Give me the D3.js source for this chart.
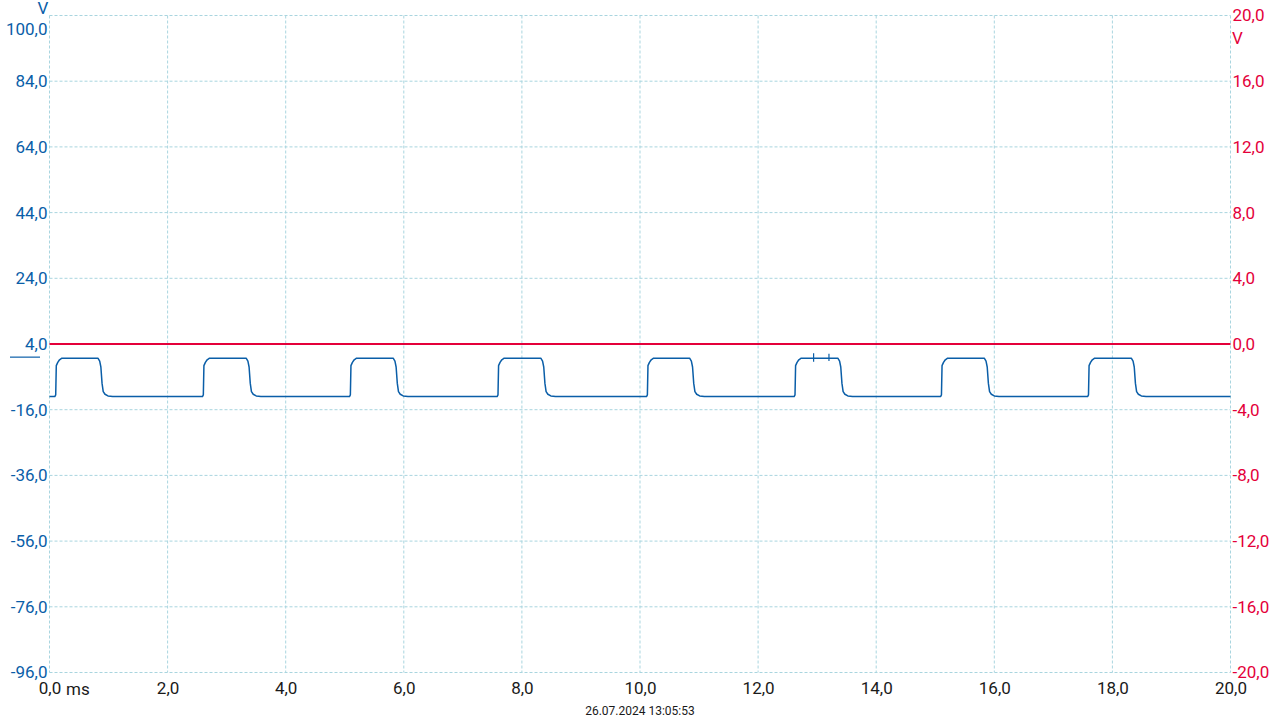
<!DOCTYPE html>
<html>
<head>
<meta charset="utf-8">
<script src="https://cdn.jsdelivr.net/npm/d3@7"></script>
<style>
  html, body { margin: 0; padding: 0; background: #fff; }
  svg { display: block; font-family: Roboto, "Noto Sans", sans-serif; }
</style>
</head>
<body>
<svg id="chart" width="1280" height="720"></svg>
<script>
// ---------- data ----------
const timeTicks = [0, 2, 4, 6, 8, 10, 12, 14, 16, 18, 20];
const timeLabels = ["0,0", "2,0", "4,0", "6,0", "8,0", "10,0", "12,0", "14,0", "16,0", "18,0", "20,0"];
const leftTicks = [104, 84, 64, 44, 24, 4, -16, -36, -56, -76, -96];
const leftLabels = ["100,0", "84,0", "64,0", "44,0", "24,0", "4,0", "-16,0", "-36,0", "-56,0", "-76,0", "-96,0"];
const rightTicks = [20, 16, 12, 8, 4, 0, -4, -8, -12, -16, -20];
const rightLabels = ["20,0", "16,0", "12,0", "8,0", "4,0", "0,0", "-4,0", "-8,0", "-12,0", "-16,0", "-20,0"];

// blue channel (left axis, V): pulse edges in ms
const riseTimes = [0.11, 2.61, 5.10, 7.60, 10.13, 12.63, 15.11, 17.60];
const fallTimes = [0.87, 3.38, 5.87, 8.37, 10.89, 13.40, 15.88, 18.37];
const blueHigh = -0.2;
const blueLow = -12.0;
// edge shapes: [time offset ms, value V]
const riseShape = [[-0.02, -12.0], [-0.005, -11.5], [0.005, -2.6], [0.03, -1.6], [0.06, -0.8], [0.10, -0.3]];
const fallShape = [[-0.05, -0.3], [-0.02, -1.2], [0.0, -3.0], [0.02, -8.0], [0.04, -10.5], [0.07, -11.3], [0.12, -11.8], [0.20, -12.0]];
// short spikes on the 6th pulse: [time ms, top V, bottom V]
const blueSpikes = [[12.94, 1.2, -1.4], [13.20, 1.0, -1.2]];
const blueZero = 0;

// red channel (right axis, V)
const redLevel = 0.0;
const timestamp = "26.07.2024 13:05:53";

// ---------- drawing ----------
const svg = d3.select("#chart");
const L = 49.5, R = 1230.5, T = 15.5, B = 672.5;
const x = d3.scaleLinear().domain([0, 20]).range([L, R]);
const yL = d3.scaleLinear().domain([-96, 104]).range([B, T]);
const yR = d3.scaleLinear().domain([-20, 20]).range([B, T]);

const blueCol = "#0a5ea8";
const redCol = "#e4003a";
const gridCol = "#a9d5df";

// grid
const grid = svg.append("g");
grid.selectAll("line.v").data(timeTicks).join("line")
  .attr("x1", d => x(d)).attr("x2", d => x(d)).attr("y1", T).attr("y2", B)
  .attr("stroke", gridCol).attr("stroke-width", 1).attr("stroke-dasharray", "3,2");
grid.selectAll("line.h").data(leftTicks).join("line")
  .attr("x1", L).attr("x2", R).attr("y1", d => yL(d)).attr("y2", d => yL(d))
  .attr("stroke", gridCol).attr("stroke-width", 1).attr("stroke-dasharray", "3,2");

// axes
const fs = 17;
const gx = svg.append("g").attr("transform", `translate(0,${B})`)
  .call(d3.axisBottom(x).tickValues(timeTicks).tickFormat((d, i) => timeLabels[i]).tickSize(0).tickPadding(9));
gx.select(".domain").remove();
gx.selectAll("text").attr("fill", "#1a1a1a").attr("font-size", fs).attr("font-family", "Roboto");
svg.append("text").attr("x", 66).attr("y", 695).attr("font-size", fs).attr("fill", "#1a1a1a")
  .attr("font-family", "Roboto").text("ms");

const gl = svg.append("g").attr("transform", `translate(${L - 1},0)`)
  .call(d3.axisLeft(yL).tickValues(leftTicks).tickFormat((d, i) => leftLabels[i]).tickSize(0).tickPadding(1));
gl.select(".domain").remove();
gl.selectAll("text").attr("fill", blueCol).attr("font-size", fs).attr("font-family", "Roboto")
  .attr("dy", (d, i) => i === 0 ? "1.1em" : "0.32em");
svg.append("text").attr("x", 43).attr("y", 14).attr("text-anchor", "middle")
  .attr("font-size", fs).attr("fill", blueCol).attr("font-family", "Roboto").text("V");

const gr = svg.append("g").attr("transform", `translate(${R + 1},0)`)
  .call(d3.axisRight(yR).tickValues(rightTicks).tickFormat((d, i) => rightLabels[i]).tickSize(0).tickPadding(1));
gr.select(".domain").remove();
gr.selectAll("text").attr("fill", redCol).attr("font-size", fs).attr("font-family", "Roboto");
svg.append("text").attr("x", 1232).attr("y", 44)
  .attr("font-size", fs).attr("fill", redCol).attr("font-family", "Roboto").text("V");

// blue zero marker
svg.append("line").attr("x1", 10).attr("x2", 40).attr("y1", yL(blueZero)).attr("y2", yL(blueZero))
  .attr("stroke", blueCol).attr("stroke-width", 1.2);

// red trace
svg.append("path")
  .datum([[0, redLevel], [20, redLevel]])
  .attr("fill", "none").attr("stroke", redCol).attr("stroke-width", 2)
  .attr("d", d3.line().x(d => x(d[0])).y(d => yR(d[1])));

// blue trace built from read edges
const bluePts = [[0, blueLow]];
riseTimes.forEach((tr, i) => {
  riseShape.forEach(([dt, v]) => bluePts.push([tr + dt, v]));
  fallShape.forEach(([dt, v]) => bluePts.push([fallTimes[i] + dt, v]));
});
bluePts.push([20, blueLow]);
svg.append("path")
  .datum(bluePts)
  .attr("fill", "none").attr("stroke", blueCol).attr("stroke-width", 1.5)
  .attr("stroke-linejoin", "round")
  .attr("d", d3.line().x(d => x(d[0])).y(d => yL(d[1])));
svg.selectAll("line.spike").data(blueSpikes).join("line")
  .attr("x1", d => x(d[0])).attr("x2", d => x(d[0]))
  .attr("y1", d => yL(d[1])).attr("y2", d => yL(d[2]))
  .attr("stroke", blueCol).attr("stroke-width", 1.2);

// timestamp
svg.append("text").attr("x", 640).attr("y", 715).attr("text-anchor", "middle")
  .attr("font-size", 12).attr("fill", "#1a1a1a").attr("font-family", "Roboto").text(timestamp);
</script>
</body>
</html>
